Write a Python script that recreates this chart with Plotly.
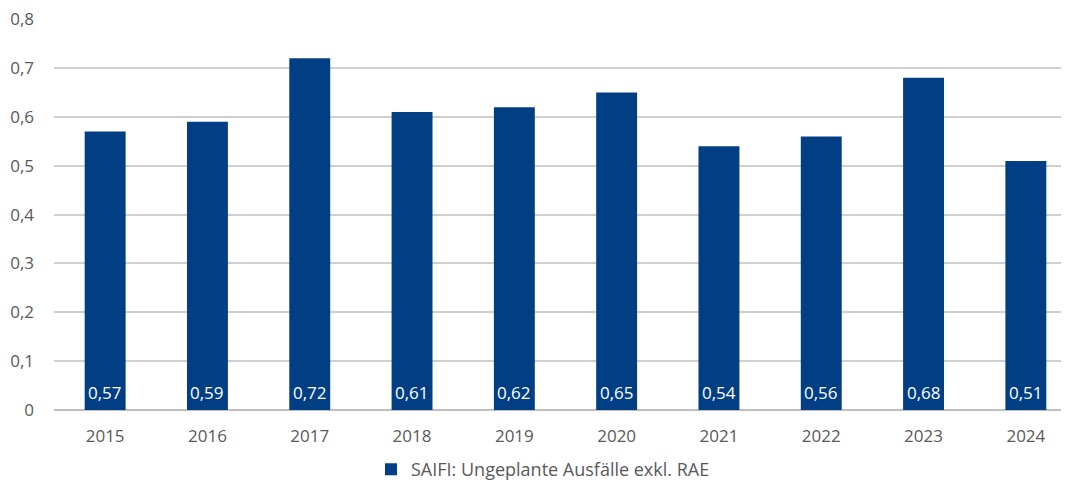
import plotly.graph_objects as go

years = ["2015", "2016", "2017", "2018", "2019", "2020", "2021", "2022", "2023", "2024"]
saifi = [0.57, 0.59, 0.72, 0.61, 0.62, 0.65, 0.54, 0.56, 0.68, 0.51]
labels = ["0,57", "0,59", "0,72", "0,61", "0,62", "0,65", "0,54", "0,56", "0,68", "0,51"]
y_ticks = [0, 0.1, 0.2, 0.3, 0.4, 0.5, 0.6, 0.7, 0.8]
y_tick_labels = ["0", "0,1", "0,2", "0,3", "0,4", "0,5", "0,6", "0,7", "0,8"]

font_family = "'Open Sans', sans-serif"

xs = list(range(len(years)))

fig = go.Figure()
fig.add_trace(go.Bar(
    x=xs, y=saifi,
    name="SAIFI: Ungeplante Ausfälle exkl. RAE",
    marker=dict(color="#023E84", line=dict(width=0)),
    width=0.40,
))

for xv, lab in zip(xs, labels):
    fig.add_annotation(
        x=xv, y=0, text=lab, showarrow=False,
        yanchor="middle", yshift=18,
        font=dict(color="white", size=17, family=font_family),
    )

fig.update_layout(
    width=1069, height=489,
    margin=dict(l=46, r=0, t=11, b=87),
    plot_bgcolor="white", paper_bgcolor="white",
    font=dict(family=font_family, color="#595959", size=17),
    showlegend=True,
    legend=dict(orientation="h", x=0.478, xanchor="center", y=-0.105, yanchor="top",
                font=dict(size=18, color="#595959"), itemwidth=30),
    xaxis=dict(
        tickmode="array", tickvals=xs, ticktext=years,
        range=[-0.5, 9.5], showgrid=False, zeroline=False, showline=False,
        ticks="", ticklabelstandoff=14,
    ),
    yaxis=dict(
        range=[0, 0.8005], tickmode="array", tickvals=y_ticks, ticktext=y_tick_labels,
        showgrid=True, gridcolor="#CFCFCF", gridwidth=1.6,
        zeroline=True, zerolinecolor="#BFBFBF", zerolinewidth=1.6,
        showline=False, ticks="", ticklabelstandoff=19,
        ticklabeloverflow="allow", automargin=False,
    ),
)

fig.write_html("out.html")
